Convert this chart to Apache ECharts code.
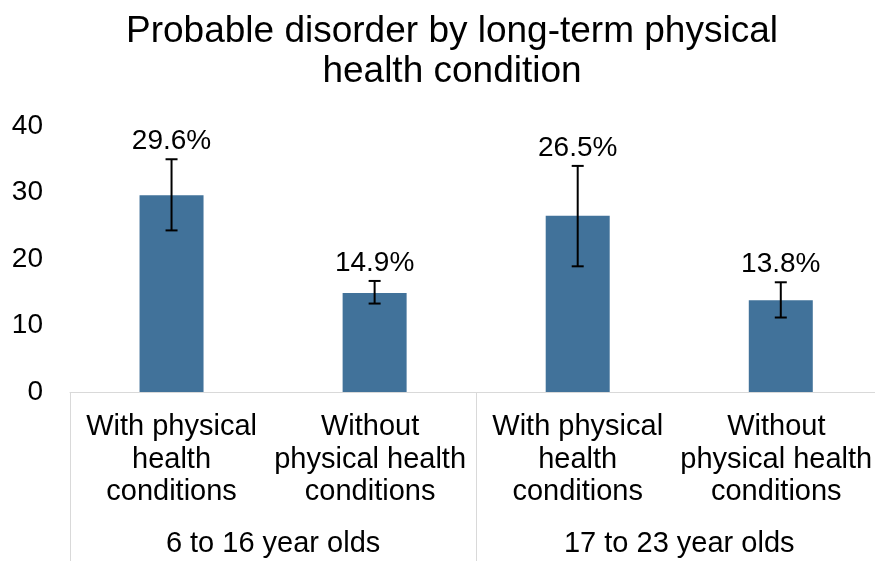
<!DOCTYPE html>
<html>
<head>
<meta charset="utf-8">
<script src="https://cdn.jsdelivr.net/npm/echarts@6/dist/echarts.min.js"></script>
<style>
  html, body { margin: 0; padding: 0; background: #fff; overflow: hidden; }
  #chart { width: 884px; height: 561px; }
</style>
</head>
<body>
<div id="chart"></div>
<script>
// Chart data
const categories = [
  'With physical\nhealth\nconditions',
  'Without\nphysical health\nconditions',
  'With physical\nhealth\nconditions',
  'Without\nphysical health\nconditions'
];
const ageGroups = ['6 to 16 year olds', '17 to 23 year olds'];
const prevalence = [29.6, 14.9, 26.5, 13.8];
const ciLower = [24.3, 13.3, 18.9, 11.2];
const ciUpper = [35.0, 16.7, 34.0, 16.5];
const yTicks = [0, 10, 20, 30, 40];

const FONT = '"Liberation Sans", Arial, sans-serif';
const BAR_COLOR = '#41729a';
const TEXT_COLOR = '#000000';
const AXIS_GREY = '#d9d9d9';

const chart = echarts.init(document.getElementById('chart'));

const errorData = prevalence.map((v, i) => [i, ciLower[i], ciUpper[i], v]);

// Multi-line category labels; the wider "Without ..." labels sit a little left of centre
function categoryLabel(value) {
  const tag = value.indexOf('Without') === 0 ? 'w' : 'n';
  return value.split('\n').map(line => '{' + tag + '|' + line + '}').join('\n');
}

chart.setOption({
  animation: false,
  backgroundColor: '#ffffff',
  textStyle: { fontFamily: FONT },
  graphic: [{
    type: 'text',
    x: 452,
    y: 12,
    style: {
      text: 'Probable disorder by long-term physical\nhealth condition',
      fontFamily: FONT,
      fontSize: 37,
      lineHeight: 40,
      fill: TEXT_COLOR,
      align: 'center',
      verticalAlign: 'top'
    }
  }],
  grid: { left: 70, top: 126, width: 814, height: 266, containLabel: false },
  xAxis: [{
    type: 'category',
    data: categories,
    position: 'bottom',
    axisLine: { show: true, lineStyle: { color: AXIS_GREY, width: 1 } },
    axisTick: { show: false },
    axisLabel: {
      interval: 0,
      margin: 19,
      fontFamily: FONT,
      fontSize: 29,
      lineHeight: 32.5,
      color: TEXT_COLOR,
      align: 'center',
      formatter: categoryLabel,
      rich: {
        n: { fontFamily: FONT, fontSize: 29, lineHeight: 32.5, color: TEXT_COLOR },
        w: { fontFamily: FONT, fontSize: 29, lineHeight: 32.5, color: TEXT_COLOR, padding: [0, 9, 0, 0] }
      }
    }
  }, {
    type: 'category',
    data: ageGroups,
    position: 'bottom',
    boundaryGap: true,
    axisLine: { show: false },
    axisTick: {
      show: true,
      length: 169,
      interval: 0,
      lineStyle: { color: AXIS_GREY, width: 1 }
    },
    axisLabel: {
      interval: 0,
      margin: 137,
      fontFamily: FONT,
      fontSize: 29,
      color: TEXT_COLOR
    }
  }],
  yAxis: {
    type: 'value',
    min: yTicks[0],
    max: yTicks[yTicks.length - 1],
    interval: 10,
    splitLine: { show: false },
    axisLine: { show: false },
    axisTick: { show: false },
    axisLabel: {
      margin: 27,
      fontFamily: FONT,
      fontSize: 28,
      color: TEXT_COLOR
    }
  },
  series: [{
    type: 'bar',
    xAxisIndex: 0,
    data: prevalence,
    barWidth: 64,
    itemStyle: { color: BAR_COLOR }
  }, {
    // 95% confidence interval whiskers with the value label above each
    type: 'custom',
    xAxisIndex: 0,
    data: errorData,
    z: 10,
    renderItem: function (params, api) {
      const idx = api.value(0);
      const lo = api.coord([idx, api.value(1)]);
      const hi = api.coord([idx, api.value(2)]);
      const val = api.value(3);
      const half = 6;
      const ls = { stroke: '#000000', lineWidth: 2 };
      return {
        type: 'group',
        children: [
          { type: 'line', shape: { x1: hi[0], y1: hi[1], x2: lo[0], y2: lo[1] }, style: ls },
          { type: 'line', shape: { x1: hi[0] - half, y1: hi[1], x2: hi[0] + half, y2: hi[1] }, style: ls },
          { type: 'line', shape: { x1: lo[0] - half, y1: lo[1], x2: lo[0] + half, y2: lo[1] }, style: ls },
          {
            type: 'text',
            x: hi[0],
            y: hi[1] - 18,
            style: {
              text: val.toFixed(1) + '%',
              fontFamily: FONT,
              fontSize: 28,
              fill: TEXT_COLOR,
              align: 'center',
              verticalAlign: 'middle'
            }
          }
        ]
      };
    }
  }]
});
</script>
</body>
</html>
